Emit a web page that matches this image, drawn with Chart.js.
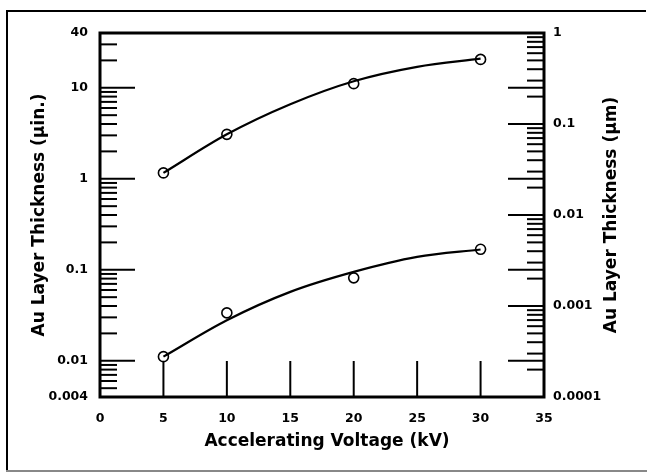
<!DOCTYPE html>
<html>
<head>
<meta charset="utf-8">
<script src="https://cdn.jsdelivr.net/npm/chart.js@4/dist/chart.umd.min.js"></script>
<style>
  html, body { margin: 0; padding: 0; background: #fff; }
  #c { display: block; }
</style>
</head>
<body>
<canvas id="c" width="647" height="473"></canvas>
<script>
// Measured Au layer thickness (µin.) against accelerating voltage (kV)
const voltages = [5, 10, 20, 30];
const upperMeasured = [1.16, 3.08, 11.1, 20.5];
const lowerMeasured = [0.0111, 0.0336, 0.0815, 0.168];

// Smooth trend curves through the measurements
const fitVoltages = [5, 10, 15, 20, 25, 30];
const upperFit = [1.16, 3.08, 6.6, 11.8, 17.0, 20.9];
const lowerFit = [0.0111, 0.0279, 0.0572, 0.0948, 0.1386, 0.167];

// Axis labels
const xTickValues = [0, 5, 10, 15, 20, 25, 30, 35];
const leftTickValues = [0.004, 0.01, 0.1, 1, 10, 40];
const leftTickLabels = ['0.004', '0.01', '0.1', '1', '10', '40'];
const rightTickValues = [0.0001, 0.001, 0.01, 0.1, 1];
const rightTickLabels = ['0.0001', '0.001', '0.01', '0.1', '1'];

// Inward tick marks
const xMarks = [5, 10, 15, 20, 25, 30];
const leftMajorMarks = [0.01, 0.1, 1, 10];
const leftMinorMarks = [
  0.005, 0.006, 0.007, 0.008, 0.009,
  0.02, 0.03, 0.04, 0.05, 0.06, 0.07, 0.08, 0.09,
  0.2, 0.3, 0.4, 0.5, 0.6, 0.7, 0.8, 0.9,
  2, 3, 4, 5, 6, 7, 8, 9,
  20, 30
];
const rightMajorMarks = [0.001, 0.01, 0.1];
const rightMinorMarks = [
  0.0002, 0.0003, 0.0004, 0.0005, 0.0006, 0.0007, 0.0008, 0.0009,
  0.002, 0.003, 0.004, 0.005, 0.006, 0.007, 0.008, 0.009,
  0.02, 0.03, 0.04, 0.05, 0.06, 0.07, 0.08, 0.09,
  0.2, 0.3, 0.4, 0.5, 0.6, 0.7, 0.8, 0.9
];

const FONT = 'DejaVu Sans';
const tickFont = { family: FONT, size: 12.5, weight: 'bold' };
const titleFont = { family: FONT, size: 17, weight: 'bold' };

const pairs = (xs, ys) => xs.map((x, i) => ({ x, y: ys[i] }));

const decorations = {
  id: 'decorations',
  afterDatasetsDraw(chart) {
    const { ctx, chartArea: a, scales } = chart;
    const sx = scales.x, yl = scales.y, yr = scales.y2;
    ctx.save();
    ctx.strokeStyle = '#000';
    ctx.lineCap = 'butt';
    ctx.lineWidth = 2;
    const hLine = (y, x0, x1) => { ctx.beginPath(); ctx.moveTo(x0, y); ctx.lineTo(x1, y); ctx.stroke(); };

    leftMajorMarks.forEach(v => {
      const y = yl.getPixelForValue(v);
      hLine(y, a.left, a.left + 35);
      hLine(y, a.right - 36, a.right);
    });
    leftMinorMarks.forEach(v => hLine(yl.getPixelForValue(v), a.left, a.left + 17));
    rightMajorMarks.forEach(v => hLine(yr.getPixelForValue(v), a.right - 36, a.right));
    rightMinorMarks.forEach(v => hLine(yr.getPixelForValue(v), a.right - 17, a.right));
    xMarks.forEach(v => {
      const px = sx.getPixelForValue(v);
      ctx.beginPath(); ctx.moveTo(px, a.bottom); ctx.lineTo(px, a.bottom - 36); ctx.stroke();
    });

    // plot box
    ctx.lineWidth = 3;
    ctx.strokeRect(a.left, a.top, a.right - a.left, a.bottom - a.top);

    ctx.fillStyle = '#000';
    ctx.font = 'bold 17px "' + FONT + '"';
    ctx.textAlign = 'center';
    ctx.textBaseline = 'middle';

    // bottom axis title
    ctx.fillText('Accelerating Voltage (kV)', 327, 442);

    // right axis title, reading upward like the left one
    ctx.translate(612, (a.top + a.bottom) / 2);
    ctx.rotate(-Math.PI / 2);
    ctx.fillText('Au Layer Thickness (µm)', 0, 0);
    ctx.restore();

    // outer frame
    ctx.save();
    ctx.fillStyle = '#000';
    ctx.fillRect(6, 10, 2, 461);
    ctx.fillRect(6, 10, 640, 2);
    ctx.fillStyle = '#888';
    ctx.fillRect(6, 470, 641, 2);
    ctx.restore();
  }
};

new Chart(document.getElementById('c'), {
  type: 'scatter',
  data: {
    datasets: [
      {
        data: pairs(fitVoltages, upperFit), showLine: true,
        borderColor: '#000', borderWidth: 2.2, pointRadius: 0,
        cubicInterpolationMode: 'monotone', yAxisID: 'y'
      },
      {
        data: pairs(fitVoltages, lowerFit), showLine: true,
        borderColor: '#000', borderWidth: 2.2, pointRadius: 0,
        cubicInterpolationMode: 'monotone', yAxisID: 'y'
      },
      {
        data: pairs(voltages, upperMeasured), showLine: false,
        pointStyle: 'circle', pointRadius: 5, pointBorderWidth: 1.6,
        pointBorderColor: '#000', pointBackgroundColor: 'rgba(0,0,0,0)', yAxisID: 'y'
      },
      {
        data: pairs(voltages, lowerMeasured), showLine: false,
        pointStyle: 'circle', pointRadius: 5, pointBorderWidth: 1.6,
        pointBorderColor: '#000', pointBackgroundColor: 'rgba(0,0,0,0)', yAxisID: 'y'
      }
    ]
  },
  options: {
    responsive: false,
    animation: false,
    devicePixelRatio: 1,
    layout: { padding: { top: 33, left: 0, right: 0, bottom: 0 } },
    plugins: { legend: { display: false }, tooltip: { enabled: false } },
    scales: {
      x: {
        type: 'linear', min: 0, max: 35,
        afterBuildTicks: s => { s.ticks = xTickValues.map(v => ({ value: v })); },
        afterFit: s => { s.height = 76; },
        grid: { display: false, drawTicks: false },
        border: { display: false },
        ticks: { font: tickFont, color: '#000', padding: 14, maxRotation: 0, autoSkip: false }
      },
      y: {
        type: 'logarithmic', position: 'left', min: 0.004, max: 40,
        afterBuildTicks: s => { s.ticks = leftTickValues.map(v => ({ value: v })); },
        afterFit: s => { s.width = 100; },
        grid: { display: false, drawTicks: false },
        border: { display: false },
        ticks: {
          font: tickFont, color: '#000', padding: 12, autoSkip: false,
          callback: v => leftTickLabels[leftTickValues.indexOf(v)]
        },
        title: {
          display: true, text: 'Au Layer Thickness (µin.)', font: titleFont, color: '#000',
          padding: { top: 29, bottom: 0 }
        }
      },
      y2: {
        type: 'logarithmic', position: 'right', min: 0.0001, max: 1, display: true,
        afterBuildTicks: s => { s.ticks = rightTickValues.map(v => ({ value: v })); },
        afterFit: s => { s.width = 103; },
        grid: { display: false, drawTicks: false },
        border: { display: false },
        ticks: {
          font: tickFont, color: '#000', padding: 9, autoSkip: false,
          callback: v => rightTickLabels[rightTickValues.indexOf(v)]
        }
      }
    }
  },
  plugins: [decorations]
});
</script>
</body>
</html>
